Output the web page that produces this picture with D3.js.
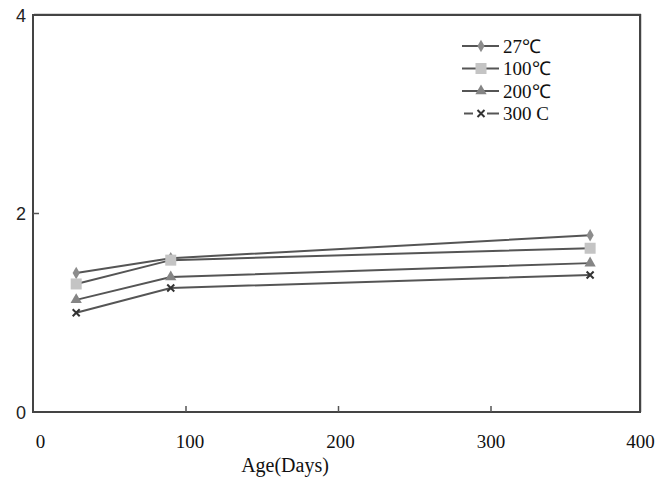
<!DOCTYPE html>
<html>
<head>
<meta charset="utf-8">
<script src="https://cdn.jsdelivr.net/npm/d3@7"></script>
<style>
  body { margin: 0; background: #fff; }
</style>
</head>
<body>
<svg id="chart"></svg>
<script>
// data
const ages = [28, 90, 365];
const temps = ["27\u2103", "100\u2103", "200\u2103", "300 C"];
const s27 = [1.40, 1.55, 1.78];
const s100 = [1.29, 1.53, 1.65];
const s200 = [1.13, 1.36, 1.50];
const s300 = [1.00, 1.25, 1.38];
const xTicks = [0, 100, 200, 300, 400];
const yTicks = [0, 2, 4];

const series = [
  { name: temps[0], values: s27, marker: "diamond", fill: "#8c8c8c" },
  { name: temps[1], values: s100, marker: "square", fill: "#c4c4c4" },
  { name: temps[2], values: s200, marker: "triangle", fill: "#858585" },
  { name: temps[3], values: s300, marker: "cross", fill: "#333" }
];

const width = 665, height = 479;
const svg = d3.select("#chart").attr("width", width).attr("height", height);

const x = d3.scaleLinear().domain([0, 400]).range([33.5, 643.5]);
const y = d3.scaleLinear().domain([0, 4]).range([412, 15]);

// plot frame, with the faint shadow on top and right
svg.append("path")
  .attr("d", "M34,14H641V412")
  .attr("fill", "none").attr("stroke", "#aaa").attr("stroke-width", 1);
svg.append("rect")
  .attr("x", 33).attr("y", 15)
  .attr("width", 640 - 33).attr("height", 412 - 15)
  .attr("fill", "none").attr("stroke", "#444").attr("stroke-width", 2);

// x ticks (inside, pointing up) and labels
svg.append("g").selectAll("line")
  .data(xTicks.filter(d => d > 0 && d < 400))
  .enter().append("line")
    .attr("x1", d => x(d)).attr("x2", d => x(d))
    .attr("y1", 412).attr("y2", 406)
    .attr("stroke", "#555").attr("stroke-width", 1.5);

svg.append("g").selectAll("text")
  .data(xTicks)
  .enter().append("text")
    .attr("x", (d, i) => x(d) + [7, 4, 2, 0, -3][i])
    .attr("y", 448)
    .attr("text-anchor", "middle")
    .attr("font-family", "Liberation Serif, serif")
    .attr("font-size", 19)
    .attr("fill", "#111")
    .text(d => d);

svg.append("text")
  .attr("x", 285).attr("y", 472)
  .attr("text-anchor", "middle")
  .attr("font-family", "Liberation Serif, serif")
  .attr("font-size", 20)
  .attr("fill", "#111")
  .text("Age(Days)");

// y ticks (inside, pointing right) and labels
svg.append("g").selectAll("line")
  .data(yTicks.filter(d => d > 0 && d < 4))
  .enter().append("line")
    .attr("x1", 33).attr("x2", 39)
    .attr("y1", d => y(d)).attr("y2", d => y(d))
    .attr("stroke", "#555").attr("stroke-width", 1.5);

svg.append("g").selectAll("text")
  .data(yTicks)
  .enter().append("text")
    .attr("x", 21)
    .attr("y", d => y(d) + 6.5)
    .attr("text-anchor", "middle")
    .attr("font-family", "Liberation Sans, sans-serif")
    .attr("font-size", 18)
    .attr("fill", "#222")
    .text(d => d);

// markers
function drawMarker(g, type, cx, cy, fill) {
  if (type === "diamond") {
    g.append("path")
      .attr("d", d3.symbol(d3.symbolDiamond, 45)())
      .attr("transform", `translate(${cx},${cy})`).attr("fill", fill);
  } else if (type === "square") {
    g.append("rect")
      .attr("x", cx - 5.5).attr("y", cy - 5.5).attr("width", 11).attr("height", 11)
      .attr("fill", fill);
  } else if (type === "triangle") {
    g.append("path")
      .attr("d", d3.symbol(d3.symbolTriangle, 55)())
      .attr("transform", `translate(${cx},${cy})`).attr("fill", fill);
  } else {
    g.append("path")
      .attr("d", `M${cx - 3.5},${cy - 3.5}L${cx + 3.5},${cy + 3.5}M${cx - 3.5},${cy + 3.5}L${cx + 3.5},${cy - 3.5}`)
      .attr("stroke", fill).attr("stroke-width", 2).attr("fill", "none");
  }
}

const line = d3.line()
  .x((d, i) => x(ages[i]))
  .y(d => y(d));

series.forEach(s => {
  const g = svg.append("g");
  g.append("path")
    .attr("d", line(s.values))
    .attr("fill", "none")
    .attr("stroke", "#555")
    .attr("stroke-width", 2);
  s.values.forEach((v, i) => drawMarker(g, s.marker, x(ages[i]), y(v), s.fill));
});

// legend
const legend = svg.append("g");
series.forEach((s, i) => {
  const ly = 46 + i * 22.5;
  const gap = s.marker === "cross" ? 7 : 0;
  legend.append("line")
    .attr("x1", s.marker === "cross" ? 464 : 462).attr("x2", 480 - gap)
    .attr("y1", ly).attr("y2", ly)
    .attr("stroke", "#555").attr("stroke-width", 2);
  legend.append("line")
    .attr("x1", 480 + gap).attr("x2", 499)
    .attr("y1", ly).attr("y2", ly)
    .attr("stroke", "#555").attr("stroke-width", 2);
  drawMarker(legend, s.marker, 481, ly, s.fill);
  legend.append("text")
    .attr("x", 503).attr("y", ly + 6.5)
    .attr("font-family", "Liberation Serif, serif")
    .attr("font-size", 19)
    .attr("fill", "#111")
    .text(s.name);
});
</script>
</body>
</html>
